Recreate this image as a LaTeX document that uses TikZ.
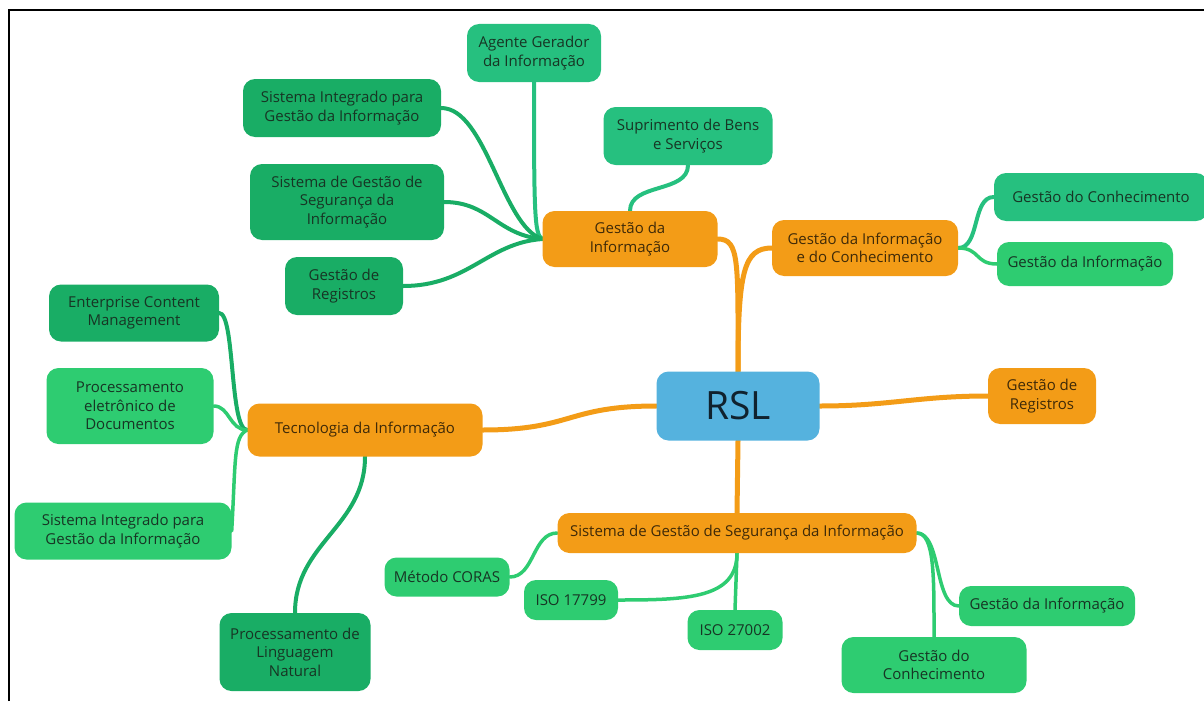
\documentclass[tikz,border=0pt]{standalone}
\usepackage{fontspec}
\setmainfont{Open Sans}
\usetikzlibrary{backgrounds}
\begin{document}
\begin{tikzpicture}[x=1pt,y=-1pt,
  box/.style={rounded corners=12pt, inner sep=0pt, align=center,
    font=\fontsize{15}{18.5}\selectfont},
  hub/.style={box, fill=orangeA, text=txtO},
  dgreen/.style={box, fill=greenD, text=txtG},
  mgreen/.style={box, fill=greenM, text=txtG},
  lgreen/.style={box, fill=greenL, text=txtG},
  olink/.style={draw=orangeA, line width=5pt, line cap=round},
  dlink/.style={draw=greenD, line width=4pt, line cap=round},
  mlink/.style={draw=greenM, line width=4pt, line cap=round},
  llink/.style={draw=greenL, line width=3.5pt, line cap=round}]
\definecolor{orangeA}{HTML}{F39C17}
\definecolor{blueC}{HTML}{55B2DE}
\definecolor{greenD}{HTML}{19AD65}
\definecolor{greenM}{HTML}{26C07F}
\definecolor{greenL}{HTML}{2ECC71}
\definecolor{txtG}{HTML}{173524}
\definecolor{txtO}{HTML}{3F2A08}
\definecolor{txtB}{HTML}{10222E}

\useasboundingbox (0,0) rectangle (1204,701);
\draw[line width=2pt] (9,701) -- (9,10) -- (1204,10);

% central topic
\node[box, fill=blueC, text=txtB, minimum width=163pt, minimum height=69pt,
  font=\fontsize{39}{44}\selectfont] (rsl) at (738,406) {RSL};

% main branches
\node[hub, minimum width=175pt, minimum height=56pt] (gi) at (630,239) {Gestão da\\Informação};
\node[hub, minimum width=186pt, minimum height=56pt] (gic) at (865,248) {Gestão da Informação\\e do Conhecimento};
\node[hub, minimum width=108pt, minimum height=56pt] (grR) at (1042,396) {Gestão de\\Registros};
\node[hub, minimum width=235pt, minimum height=53pt] (ti) at (365,430) {Tecnologia da Informação};
\node[hub, minimum width=359pt, minimum height=40pt] (sgsi) at (737,533) {Sistema de Gestão de Segurança da Informação};

% leaves of Gestão da Informação
\node[mgreen, minimum width=134pt, minimum height=58pt] (ag) at (534,53) {Agente Gerador\\da Informação};
\node[dgreen, minimum width=198pt, minimum height=58pt] (si1) at (342,108) {Sistema Integrado para\\Gestão da Informação};
\node[mgreen, minimum width=169pt, minimum height=58pt] (sup) at (688,136) {Suprimento de Bens\\e Serviços};
\node[dgreen, minimum width=194pt, minimum height=76pt] (sg) at (347,202) {Sistema de Gestão de\\Segurança da\\Informação};
\node[dgreen, minimum width=118pt, minimum height=58pt] (gr) at (344,286) {Gestão de\\Registros};

% leaves of Gestão da Informação e do Conhecimento
\node[mgreen, minimum width=214pt, minimum height=48pt] (gc) at (1101,197) {Gestão do Conhecimento};
\node[lgreen, minimum width=176pt, minimum height=44pt] (gi2) at (1085,264) {Gestão da Informação};

% leaves of Tecnologia da Informação
\node[dgreen, minimum width=170pt, minimum height=57pt] (ecm) at (134,313) {Enterprise Content\\Management};
\node[lgreen, minimum width=167pt, minimum height=76pt] (pe) at (130,406) {Processamento\\eletrônico de\\Documentos};
\node[lgreen, minimum width=217pt, minimum height=57pt] (si2) at (123,531) {Sistema Integrado para\\Gestão da Informação};
\node[dgreen, minimum width=151pt, minimum height=78pt] (pln) at (295,652) {Processamento de\\Linguagem\\Natural};

% leaves of Sistema de Gestão de Segurança da Informação
\node[lgreen, minimum width=125pt, minimum height=39pt] (coras) at (447,577) {Método CORAS};
\node[lgreen, minimum width=94pt, minimum height=40pt] (iso1) at (571,600) {ISO 17799};
\node[lgreen, minimum width=95pt, minimum height=40pt] (iso2) at (735,630) {ISO 27002};
\node[lgreen, minimum width=176pt, minimum height=40pt] (gi3) at (1047,606) {Gestão da Informação};
\node[lgreen, minimum width=185pt, minimum height=56pt] (gc2) at (934,665) {Gestão do\\Conhecimento};

% connectors, drawn under the boxes
\begin{scope}[on background layer]
  % main branches
  \draw[olink] (gi.east) .. controls +(22,0) and +(0,-110) .. (rsl.north);
  \draw[olink] (gic.west) .. controls +(-28,0) and +(0,-100) .. (rsl.north);
  \draw[olink] (rsl.east) .. controls +(70,0) and +(-70,0) .. (grR.west);
  \draw[olink] (rsl.west) .. controls +(-90,0) and +(90,0) .. (ti.east);
  \draw[olink] (rsl.south) -- (sgsi.north);
  % Gestão da Informação
  \draw[mlink] (ag.south) .. controls +(0,130) and +(-8,-4) .. (gi.west);
  \draw[dlink] (si1.east) .. controls +(45,0) and +(-40,-12) .. (gi.west);
  \draw[dlink] (sg.east) .. controls +(45,0) and +(-45,-4) .. (gi.west);
  \draw[dlink] (gr.east) .. controls +(65,0) and +(-55,4) .. (gi.west);
  \draw[mlink] (sup.south) .. controls +(0,28) and +(0,-28) .. (gi.north);
  % Gestão da Informação e do Conhecimento
  \draw[mlink] (gic.east) .. controls +(22,0) and +(-22,0) .. (gc.west);
  \draw[llink] (gic.east) .. controls +(22,0) and +(-22,0) .. (gi2.west);
  % Tecnologia da Informação
  \draw[dlink] (ti.west) .. controls +(-18,0) and +(16,0) .. (ecm.east);
  \draw[llink] (ti.west) .. controls +(-18,0) and +(16,0) .. (pe.east);
  \draw[llink] (ti.west) .. controls +(-14,6) and +(4,-70) .. (si2.east);
  \draw[dlink] (ti.south) .. controls +(0,70) and +(0,-70) .. (pln.north);
  % Sistema de Gestão de Segurança da Informação
  \draw[llink] (sgsi.west) .. controls +(-25,0) and +(25,0) .. (coras.east);
  \draw[llink] (sgsi.south) .. controls +(0,45) and +(70,0) .. (iso1.east);
  \draw[llink] (sgsi.south) -- (iso2.north);
  \draw[llink] (sgsi.east) .. controls +(25,0) and +(-25,0) .. (gi3.west);
  \draw[llink] (sgsi.east) .. controls +(18,0) and +(0,-60) .. (gc2.north);
\end{scope}
\end{tikzpicture}
\end{document}
